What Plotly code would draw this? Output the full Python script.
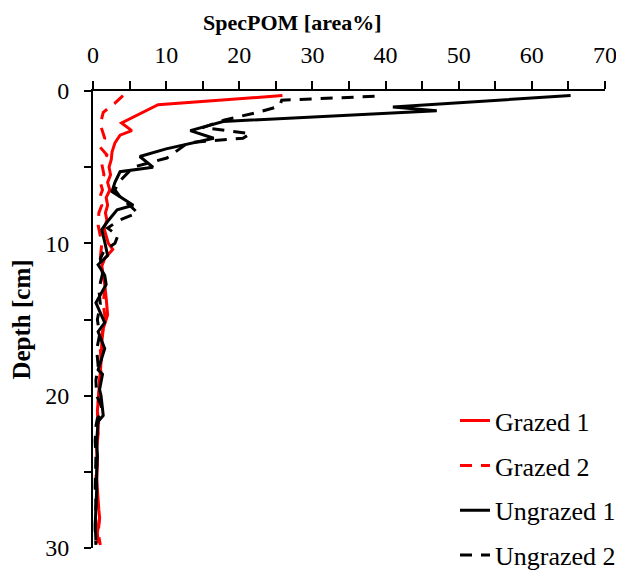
import plotly.graph_objects as go

# ---- data ----
g1_depth = [0.3, 0.9, 2.1, 2.6, 2.9, 3.4, 4.0, 4.5, 5.0, 5.5, 6.0, 6.5, 7.0, 7.5, 8.0, 8.5, 9.0, 9.5,
            10.0, 10.4, 11.0, 11.5, 12.0, 12.7, 13.6, 14.7, 15.6, 16.5, 17.8, 18.9, 20.0, 21.0, 22.0,
            22.5, 23.5, 24.5, 25.5, 26.5, 27.5, 28.0, 29.0, 29.7]
g1_val = [25.9, 8.9, 3.9, 5.3, 3.7, 3.0, 2.6, 2.5, 2.2, 2.4, 2.0, 2.3, 1.8, 2.0, 1.7, 1.9, 1.5, 1.8,
          2.1, 2.7, 1.6, 1.2, 1.4, 1.6, 1.8, 2.0, 1.4, 1.2, 1.1, 0.9, 0.8, 0.6, 0.7,
          0.7, 0.5, 0.6, 0.5, 0.6, 0.8, 0.9, 0.6, 0.7]

g2_depth = [0.3, 0.8, 1.4, 2.2, 3.1, 3.7, 4.2, 4.8, 5.5, 6.0, 6.5, 7.0, 7.5, 8.0, 8.8, 9.5, 10.0,
            11, 12, 13, 14, 15, 16, 17, 18, 19, 20, 21, 22, 23, 24, 25, 26, 27, 28, 29, 29.8]
g2_val = [4.1, 3.0, 1.4, 1.0, 1.6, 1.0, 1.9, 1.2, 1.5, 1.0, 1.3, 0.9, 1.2, 0.8, 0.7, 1.0, 1.2,
          1.0, 1.3, 1.6, 1.4, 1.7, 1.2, 1.0, 1.2, 0.9, 0.8, 0.6, 0.8, 0.5, 0.6, 0.4, 0.5, 0.6, 0.9, 0.7, 1.0]

u1_depth = [0.3, 1.05, 1.3, 2.0, 2.6, 3.1, 3.8, 4.3, 5.0, 5.3, 6.0, 6.6, 7.5, 7.8, 8.5, 9.1, 9.9,
            10.8, 11.4, 12.1, 12.7, 13.9, 15.2, 15.8, 16.9, 18.3, 18.6, 19.6, 20.0, 21.3, 21.7,
            23.0, 24.0, 25.0, 26.2, 27.5, 28.5, 29.5]
u1_val = [65.3, 41.0, 47.0, 17.8, 13.3, 16.5, 10.0, 6.4, 8.2, 3.7, 3.0, 2.6, 5.5, 3.3, 2.1, 1.2, 1.6,
          2.0, 0.7, 1.6, 1.8, 0.4, 1.6, 0.7, 1.6, 0.7, 1.3, 0.9, 1.1, 1.4, 0.7,
          0.5, 0.6, 0.5, 0.5, 0.4, 0.3, 0.4]

u2_depth = [0.35, 0.6, 1.0, 1.4, 1.9, 2.4, 2.8, 3.1, 3.4, 4.1, 4.4, 5.0, 5.5, 6.0, 6.5, 7.0, 7.5,
            8.0, 8.5, 9.0, 9.5, 10.0, 10.5, 11, 12, 13, 14, 15, 16, 17, 18, 19, 20, 20.5, 21,
            21.5, 22, 23, 24, 25, 26, 27, 28, 29, 29.8]
u2_val = [38.5, 25.8, 25.5, 22.5, 18.0, 15.0, 21.5, 20.5, 13.0, 11.0, 10.1, 5.5, 4.5, 3.5, 3.0, 3.8, 5.0,
          6.1, 3.5, 2.0, 3.4, 3.0, 1.5, 1.0, 1.3, 0.8, 1.0, 0.6, 0.9, 0.5, 0.7, 0.4, 0.5, 1.0, 1.3,
          0.6, 0.4, 0.3, 0.4, 0.3, 0.3, 0.4, 0.3, 0.3, 0.4]

series_names = ["Grazed 1", "Grazed 2", "Ungrazed 1", "Ungrazed 2"]
x_ticks = [0, 10, 20, 30, 40, 50, 60, 70]
y_ticks = [0, 10, 20, 30]

FONT = "Liberation Serif, Times New Roman, serif"

fig = go.Figure()
styles = [("#ff0000", "solid"), ("#ff0000", "12px,9px"), ("#000000", "solid"), ("#000000", "12px,9px")]
data = [(g1_val, g1_depth), (g2_val, g2_depth), (u1_val, u1_depth), (u2_val, u2_depth)]
for name, (xv, yv), (col, dash) in zip(series_names, data, styles):
    fig.add_trace(go.Scatter(x=xv, y=yv, mode="lines", name=name, legendgroup=name,
                             line=dict(color=col, width=3, dash=dash)))

tick_style = dict(ticks="outside", tickcolor="black", tickwidth=1.8)
fig.update_layout(
    width=616, height=562,
    margin=dict(l=85, r=19, t=83, b=22, autoexpand=False),
    paper_bgcolor="white", plot_bgcolor="white",
    font=dict(family=FONT, size=24, color="#000000"),
    showlegend=True,
    legend=dict(x=0.707, y=0.33, xanchor="left", yanchor="top",
                font=dict(family=FONT, size=26, color="#000000"),
                bgcolor="rgba(0,0,0,0)", tracegroupgap=8, traceorder="grouped"),
    xaxis=dict(side="top", range=[0, 70], tickvals=x_ticks, showgrid=False, zeroline=False,
               showline=True, linecolor="black", linewidth=2, ticklen=8, automargin=False,
               minor=dict(dtick=5, ticklen=8, **tick_style), ticklabelstandoff=8,
               tickfont=dict(size=24), **tick_style),
    yaxis=dict(range=[30, 0], tickvals=y_ticks, showgrid=False, zeroline=False,
               showline=True, linecolor="black", linewidth=2, ticklen=7, automargin=False,
               minor=dict(dtick=5, ticklen=7, **tick_style), ticklabelstandoff=10,
               tickfont=dict(size=24),
               title=dict(text="<b>Depth [cm]</b>", font=dict(size=25), standoff=8),
               **tick_style),
    annotations=[dict(text="<b>SpecPOM [area%]</b>", xref="paper", yref="paper",
                      x=0.389, y=1.15, xanchor="center", yanchor="middle",
                      showarrow=False, font=dict(family=FONT, size=22))],
)

fig.write_html("out.html")
